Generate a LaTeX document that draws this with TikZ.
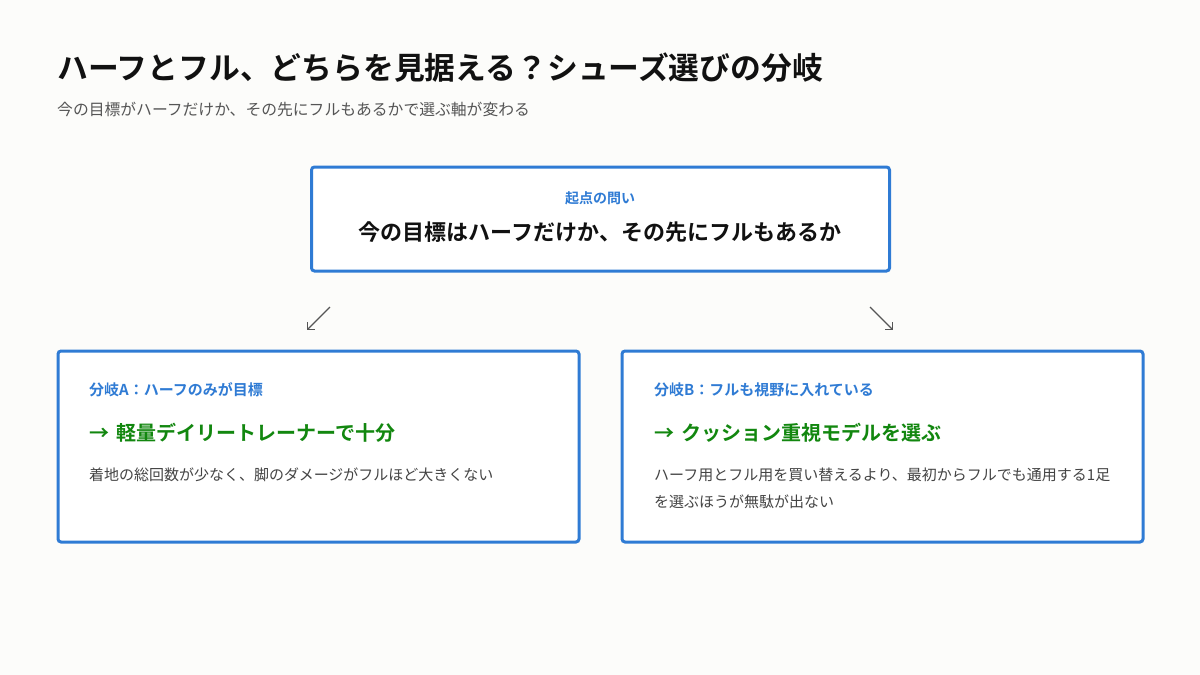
\documentclass[tikz,border=0pt]{standalone}
\usepackage{fontspec}
\setmainfont{Noto Sans CJK JP}[BoldFont={Noto Sans CJK JP Bold}]
\usetikzlibrary{arrows.meta}
\definecolor{bg}{HTML}{FCFCFA}
\definecolor{boxblue}{HTML}{2F7BD4}
\definecolor{lblblue}{HTML}{2F7BD4}
\definecolor{okgreen}{HTML}{12870F}
\definecolor{titleink}{HTML}{111111}
\definecolor{subink}{HTML}{555555}
\definecolor{bodyink}{HTML}{444444}
\definecolor{arrowink}{HTML}{555555}
\tikzset{
  box/.style={draw=boxblue, line width=3pt, fill=white, rounded corners=3pt, inner sep=0pt, anchor=north west},
  txt/.style={inner sep=0pt, anchor=base west},
  ctxt/.style={inner sep=0pt, anchor=base},
  titlefont/.style={font={\fontsize{30.8}{36}\selectfont\bfseries}, text=titleink},
  subfont/.style={font={\fontsize{15.8}{20}\selectfont}, text=subink},
  tagfont/.style={font={\fontsize{14}{18}\selectfont\bfseries}, text=lblblue},
  qfont/.style={font={\fontsize{22}{26}\selectfont\bfseries}, text=titleink},
  lblfont/.style={font={\fontsize{15}{18}\selectfont\bfseries}, text=lblblue},
  resfont/.style={font={\fontsize{20}{24}\selectfont\bfseries}, text=okgreen},
  bodyfont/.style={font={\fontsize{15}{27}\selectfont}, text=bodyink},
  branch/.style={draw=arrowink, line width=1.3pt, -{Straight Barb[length=5pt,width=10pt]}}
}
\begin{document}
\begin{tikzpicture}[x=1pt,y=-1pt]
\fill[bg] (0,0) rectangle (1200,675);
\useasboundingbox (0,0) rectangle (1200,675);

\node[txt, titlefont] (title) at (57,79) {ハーフとフル、どちらを見据える？シューズ選びの分岐};
\node[txt, subfont] (sub) at (57,115) {今の目標がハーフだけか、その先にフルもあるかで選ぶ軸が変わる};

\node[box, minimum width=578pt, minimum height=104pt] (q) at (310,165.5) {};
\node[ctxt, tagfont] (qtag) at (600,203) {起点の問い};
\node[ctxt, qfont] (qtext) at (600,240) {今の目標はハーフだけか、その先にフルもあるか};

\coordinate (la0) at (330,307);
\coordinate (la1) at (307,330);
\coordinate (ra0) at (870,307);
\coordinate (ra1) at (893,330);
\draw[branch] (la0) -- (la1);
\draw[branch] (ra0) -- (ra1);

\node[box, minimum width=521pt, minimum height=191pt] (a) at (56.5,349.5) {};
\node[txt, lblfont] (alab) at (89,395) {分岐A：ハーフのみが目標};
\node[txt, resfont] (ares) at (89,440) {→\hspace{7pt}軽量デイリートレーナーで十分};
\node[txt, bodyfont] (abody) at (89,480) {着地の総回数が少なく、脚のダメージがフルほど大きくない};

\node[box, minimum width=521pt, minimum height=191pt] (b) at (620.5,349.5) {};
\node[txt, lblfont] (blab) at (654,395) {分岐B：フルも視野に入れている};
\node[txt, resfont] (bres) at (654,440) {→\hspace{7pt}クッション重視モデルを選ぶ};
\node[txt, bodyfont] (bbody1) at (654,480) {ハーフ用とフル用を買い替えるより、最初からフルでも通用する1足};
\node[txt, bodyfont] (bbody2) at (654,507) {を選ぶほうが無駄が出ない};
\end{tikzpicture}
\end{document}
